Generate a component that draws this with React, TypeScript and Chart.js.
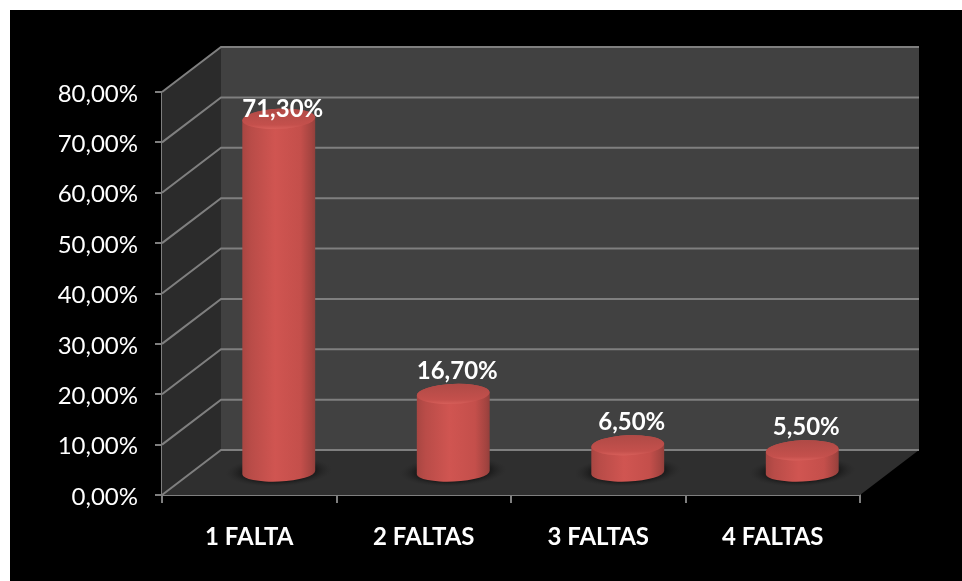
import React, { useEffect, useRef } from "react";
import { Chart, registerables } from "chart.js";

Chart.register(...registerables);

const categories = ["1 FALTA", "2 FALTAS", "3 FALTAS", "4 FALTAS"];
const shares = [71.3, 16.7, 6.5, 5.5];
const yTickStep = 10;
const yMax = 80;

const DEPTH_X = 59;
const DEPTH_Y = 45;
const GRID = "#7f7f7f";
const fmt = (v: number) => v.toFixed(2).replace(".", ",") + "%";

const scene = {
  id: "scene",
  beforeDraw(chart: any) {
    const { ctx, width, height } = chart;
    ctx.save();
    ctx.fillStyle = "#ffffff";
    ctx.fillRect(0, 0, width, height);
    ctx.fillStyle = "#000000";
    ctx.fillRect(10, 10, width - 10, height - 10);
    ctx.restore();
  },
  beforeDatasetsDraw(chart: any) {
    const { ctx, chartArea: a, scales } = chart;
    const { left, right, top, bottom } = a;
    ctx.save();
    // left wall
    ctx.fillStyle = "#2b2b2b";
    ctx.beginPath();
    ctx.moveTo(left, top);
    ctx.lineTo(left + DEPTH_X, top - DEPTH_Y);
    ctx.lineTo(left + DEPTH_X, bottom - DEPTH_Y);
    ctx.lineTo(left, bottom);
    ctx.closePath();
    ctx.fill();
    // back wall
    ctx.fillStyle = "#414141";
    ctx.fillRect(left + DEPTH_X, top - DEPTH_Y, right - left, bottom - top);
    // floor
    ctx.fillStyle = "#2f2f2f";
    ctx.beginPath();
    ctx.moveTo(left, bottom);
    ctx.lineTo(right, bottom);
    ctx.lineTo(right + DEPTH_X, bottom - DEPTH_Y);
    ctx.lineTo(left + DEPTH_X, bottom - DEPTH_Y);
    ctx.closePath();
    ctx.fill();
    // grid lines on both walls, from the value scale
    ctx.strokeStyle = GRID;
    ctx.lineWidth = 2;
    for (const t of scales.y.ticks) {
      const y = scales.y.getPixelForValue(t.value);
      ctx.beginPath();
      ctx.moveTo(left, y);
      ctx.lineTo(left + DEPTH_X, y - DEPTH_Y);
      ctx.lineTo(right + DEPTH_X, y - DEPTH_Y);
      ctx.stroke();
    }
    // shadows
    const meta = chart.getDatasetMeta(0);
    for (const el of meta.data) {
      const cx = el.x + DEPTH_X / 2;
      const cy = bottom - DEPTH_Y / 2 - 1;
      const g = ctx.createRadialGradient(0, 0, 0, 0, 0, 1);
      g.addColorStop(0, "rgba(22,22,22,0.95)");
      g.addColorStop(0.7, "rgba(24,24,24,0.8)");
      g.addColorStop(1, "rgba(40,40,40,0)");
      ctx.save();
      ctx.translate(cx, cy);
      ctx.rotate(-0.04);
      ctx.scale(el.width / 2 + 17, 15);
      ctx.fillStyle = g;
      ctx.beginPath();
      ctx.arc(0, 0, 1, 0, Math.PI * 2);
      ctx.fill();
      ctx.restore();
    }
    ctx.restore();
  },
  afterDatasetsDraw(chart: any) {
    const { ctx, chartArea: a } = chart;
    const meta = chart.getDatasetMeta(0);
    const RY = 10;
    const TILT = -0.045;
    ctx.save();
    meta.data.forEach((el: any, i: number) => {
      const cx = el.x + DEPTH_X / 2;
      const w = el.width;
      const rx = w / 2;
      const baseY = a.bottom - DEPTH_Y / 2;
      const topY = el.y - 17;
      // body
      const g = ctx.createLinearGradient(cx - rx, 0, cx + rx, 0);
      g.addColorStop(0, "#a84642");
      g.addColorStop(0.12, "#b94c48");
      g.addColorStop(0.45, "#d05551");
      g.addColorStop(0.8, "#c44f4b");
      g.addColorStop(0.95, "#a34440");
      g.addColorStop(1, "#93403c");
      ctx.fillStyle = g;
      ctx.beginPath();
      ctx.ellipse(cx, baseY, rx, RY - 1, TILT, Math.PI, 0, true);
      ctx.ellipse(cx, topY, rx, RY, TILT, 0, Math.PI, true);
      ctx.closePath();
      ctx.fill();
      // top cap
      const t = ctx.createLinearGradient(0, topY - RY, 0, topY + RY);
      t.addColorStop(0, "#b04a46");
      t.addColorStop(0.8, "#c4504c");
      t.addColorStop(1, "#d65e59");
      ctx.fillStyle = t;
      ctx.beginPath();
      ctx.ellipse(cx, topY, rx, RY, TILT, 0, Math.PI * 2);
      ctx.fill();
      // value label
      ctx.fillStyle = "#ffffff";
      ctx.font = "bold 24px Lato, Carlito, sans-serif";
      ctx.textAlign = "center";
      ctx.textBaseline = "middle";
      const ly = Math.max(a.top + 17, el.y - 40);
      ctx.fillText(fmt(shares[i]), cx + 4, ly);
    });
    ctx.restore();
  },
};

export default function App() {
  const ref = useRef<HTMLCanvasElement>(null);
  useEffect(() => {
    document.body.style.margin = "0";
    document.body.style.background = "#ffffff";
    const chart = new Chart(ref.current as HTMLCanvasElement, {
      type: "bar",
      data: {
        labels: categories,
        datasets: [
          {
            data: shares,
            backgroundColor: "rgba(0,0,0,0)",
            borderWidth: 0,
            barPercentage: 0.418,
            categoryPercentage: 1,
          },
        ],
      },
      options: {
        responsive: false,
        animation: false,
        layout: { padding: { top: 92, right: 102, left: 0, bottom: 0 } },
        plugins: { legend: { display: false }, tooltip: { enabled: false } },
        scales: {
          x: {
            afterFit: (s: any) => {
              s.height = 86;
            },
            grid: {
              offset: true,
              drawOnChartArea: false,
              drawTicks: true,
              tickLength: 8,
              color: GRID,
              lineWidth: 2,
            },
            border: { color: GRID, width: 2 },
            ticks: {
              color: "#ffffff",
              padding: 20,
              maxRotation: 0,
              font: { family: "Lato, Carlito, sans-serif", size: 24, weight: "bold" },
            },
          },
          y: {
            min: 0,
            max: yMax,
            afterFit: (s: any) => {
              s.width = 162;
            },
            grid: {
              drawOnChartArea: false,
              drawTicks: true,
              tickLength: 7,
              color: GRID,
              lineWidth: 2,
            },
            border: { color: GRID, width: 2 },
            ticks: {
              stepSize: yTickStep,
              color: "#ffffff",
              padding: 17,
              labelOffset: 2,
              callback: (v: any) => fmt(Number(v)),
              font: { family: "Lato, Carlito, sans-serif", size: 24 },
            },
          },
        },
      },
      plugins: [scene],
    } as any);
    return () => chart.destroy();
  }, []);
  return <canvas ref={ref} width={962} height={581} style={{ display: "block" }} />;
}
